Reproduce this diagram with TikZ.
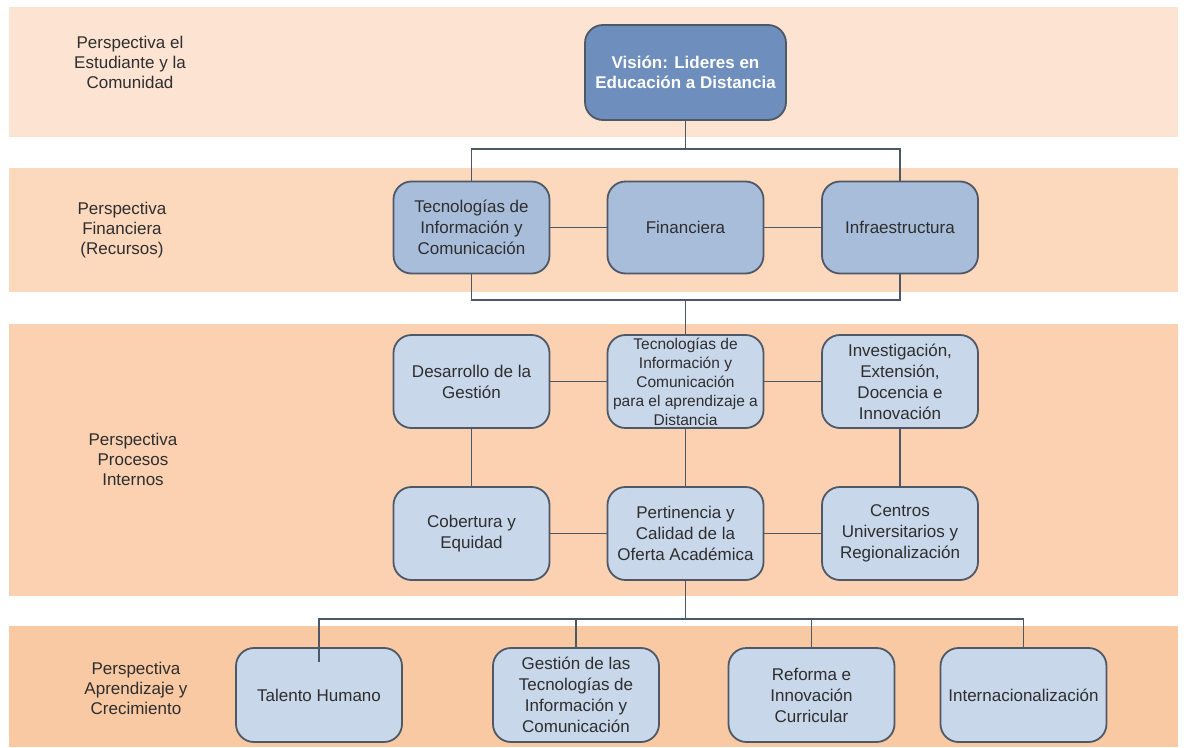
\documentclass[tikz,border=0pt]{standalone}
\usepackage{fontspec}
\setmainfont{Liberation Sans}
\definecolor{bandA}{HTML}{FDE4D2}
\definecolor{bandB}{HTML}{FCD8BD}
\definecolor{bandC}{HTML}{FBD1B2}
\definecolor{bandD}{HTML}{F9C9A4}
\definecolor{visfill}{HTML}{6E8EBE}
\definecolor{midfill}{HTML}{A8BDDA}
\definecolor{lightfill}{HTML}{C8D7EA}
\definecolor{edgecol}{HTML}{4E5866}
\definecolor{linecol}{HTML}{4C5868}
\definecolor{txtcol}{HTML}{2E2E2E}
\begin{document}
\begin{tikzpicture}[x=1pt,y=-1pt,
  box/.style={draw=edgecol, line width=1.8pt, rounded corners=18pt, align=center,
    inner sep=0pt, text=txtcol, font=\fontsize{17}{21}\selectfont},
  visbox/.style={box, fill=visfill, minimum width=201pt, minimum height=95pt,
    text=white, font=\fontsize{17}{20}\selectfont\bfseries},
  midbox/.style={box, fill=midfill, minimum width=156pt, minimum height=92pt},
  lightbox/.style={box, fill=lightfill, minimum width=156pt, minimum height=93pt},
  lowbox/.style={box, fill=lightfill, minimum width=166pt, minimum height=94pt},
  persp/.style={align=center, text=txtcol, font=\fontsize{17}{20}\selectfont},
  conn/.style={draw=linecol, line width=1.8pt}
]
\useasboundingbox (0,0) rectangle (1188,747);
% bands
\fill[bandA] (9,7) rectangle (1178,137);
\fill[bandB] (9,168) rectangle (1178,292);
\fill[bandC] (9,324) rectangle (1178,596);
\fill[bandD] (9,626) rectangle (1178,747);
% perspective labels
\node[persp] (p1) at (130,62) {Perspectiva el\\Estudiante y la\\Comunidad};
\node[persp] (p2) at (122,230) {Perspectiva\\Financiera\\(Recursos)};
\node[persp] (p3) at (133,459) {Perspectiva\\Procesos\\Internos};
\node[persp] (p4) at (136,688) {Perspectiva\\Aprendizaje y\\Crecimiento};
% junction coordinates
\coordinate (j1) at (685.5,149);
\coordinate (j2) at (685.5,300);
\coordinate (j3) at (685.5,619);
% nodes
\node[visbox] (vis) at (685.5,72.5) {Visión: Lideres en\\Educación a Distancia};
\node[midbox] (tic) at (471.5,227.5) {Tecnologías de\\Información y\\Comunicación};
\node[midbox] (fin) at (685.5,227.5) {Financiera};
\node[midbox] (inf) at (900,227.5) {Infraestructura};
\node[lightbox] (des) at (471.5,381.5) {Desarrollo de la\\Gestión};
\node[lightbox, font=\fontsize{15.5}{19}\selectfont] (tap) at (685.5,381.5)
  {Tecnologías de\\Información y\\Comunicación\\para el aprendizaje a\\Distancia};
\node[lightbox] (inv) at (900,381.5) {Investigación,\\Extensión,\\Docencia e\\Innovación};
\node[lightbox] (cob) at (471.5,533.5) {Cobertura y\\Equidad};
\node[lightbox] (per) at (685.5,533.5) {Pertinencia y\\Calidad de la\\Oferta Académica};
\node[lightbox] (cen) at (900,533.5) {Centros\\Universitarios y\\Regionalización};
\node[lowbox] (tal) at (319,695) {Talento Humano};
\node[lowbox] (ges) at (576,695) {Gestión de las\\Tecnologías de\\Información y\\Comunicación};
\node[lowbox] (ref) at (811.5,695) {Reforma e\\Innovación\\Curricular};
\node[lowbox] (int) at (1023.5,695) {Internacionalización};
% connectors
\draw[conn] (vis.south) -- (j1);
\draw[conn] (tic.north) |- (j1) -| (inf.north);
\draw[conn] (tic.east) -- (fin.west);
\draw[conn] (fin.east) -- (inf.west);
\draw[conn] (tic.south) |- (j2) -| (inf.south);
\draw[conn] (j2) -- (tap.north);
\draw[conn] (des.east) -- (tap.west);
\draw[conn] (tap.east) -- (inv.west);
\draw[conn] (des.south) -- (cob.north);
\draw[conn] (tap.south) -- (per.north);
\draw[conn] (inv.south) -- (cen.north);
\draw[conn] (cob.east) -- (per.west);
\draw[conn] (per.east) -- (cen.west);
\draw[conn] (per.south) -- (j3);
\draw[conn] ([yshift=-15pt]tal.north) -- (tal.north) |- (j3) -| (int.north);
\draw[conn] (ges.north) |- (j3);
\draw[conn] (ref.north) |- (j3);
\end{tikzpicture}
\end{document}
